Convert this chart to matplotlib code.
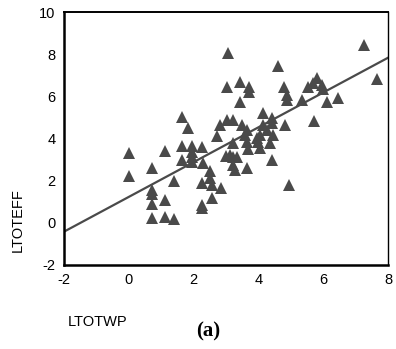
import matplotlib
matplotlib.use("Agg")
import matplotlib.pyplot as plt
import numpy as np

plt.rcParams["axes.unicode_minus"] = False

# LTOTWP vs LTOTEFF observations
ltotwp = [
    0.00, 0.00, 0.73, 0.73, 0.73, 0.73, 0.73, 1.12, 1.12, 1.12,
    1.38, 1.38, 1.64, 1.84, 1.65, 1.65, 1.96, 1.96, 1.96, 1.96,
    2.25, 2.30, 2.51, 2.51, 2.25, 2.56, 2.86, 2.58, 2.25, 2.25,
    2.71, 2.81, 3.02, 3.23, 3.48, 3.64, 3.07, 3.02, 3.43, 3.70,
    3.70, 3.43, 4.60, 4.15, 4.41, 4.41, 4.15, 4.82, 5.72, 3.59,
    4.05, 4.26, 4.46, 3.64, 4.00, 4.36, 3.69, 4.05, 3.23, 3.95,
    3.12, 3.23, 3.33, 3.23, 3.28, 3.64, 4.41, 4.95, 3.00, 4.79,
    4.87, 4.87, 5.34, 5.54, 5.70, 5.80, 5.95, 5.98, 6.13, 6.47,
    7.25, 7.65,
]
ltoteff = [
    3.30, 2.20, 2.58, 1.55, 1.35, 0.87, 0.24, 3.40, 1.08, 0.26,
    1.98, 0.17, 5.03, 4.50, 3.64, 2.99, 3.66, 3.37, 3.12, 2.88,
    3.61, 2.82, 2.48, 2.11, 1.88, 1.79, 1.66, 1.18, 0.86, 0.68,
    4.10, 4.64, 4.88, 4.88, 4.64, 4.40, 8.06, 6.45, 6.66, 6.46,
    6.22, 5.71, 7.44, 5.22, 4.96, 4.72, 4.64, 4.64, 4.82, 4.17,
    4.17, 4.40, 4.17, 3.85, 3.85, 3.77, 3.49, 3.53, 3.77, 4.01,
    3.22, 3.14, 3.14, 2.74, 2.50, 2.58, 2.98, 1.79, 3.15, 6.43,
    6.06, 5.83, 5.83, 6.43, 6.62, 6.85, 6.54, 6.33, 5.75, 5.92,
    8.45, 6.83,
]

# fitted regression line
fit_intercept = 1.23
fit_slope = 0.825
fit_range = [-2, 8]

x_ticks = [-2, 0, 2, 4, 6, 8]
y_ticks = [-2, 0, 2, 4, 6, 8, 10]

gray = "#4a4a4a"

fig = plt.figure(figsize=(3.96, 3.49), dpi=100)
ax = fig.add_axes([0.1616, 0.2407, 0.8182, 0.7249])

ax.plot(ltotwp, ltoteff, linestyle="none", marker="^", markersize=9,
        color=gray, markeredgewidth=0, zorder=3)

fx = np.array(fit_range, dtype=float)
ax.plot(fx, fit_intercept + fit_slope * fx, color=gray, linewidth=1.6, zorder=2)

ax.set_xlim(-2, 8)
ax.set_ylim(-2, 10)
ax.set_xticks(x_ticks)
ax.set_yticks(y_ticks)
ax.tick_params(length=0, labelsize=10.5, pad=6)
for lbl in ax.get_xticklabels() + ax.get_yticklabels():
    lbl.set_fontfamily("Liberation Sans")

ax.spines["left"].set_linewidth(1.8)
ax.spines["bottom"].set_linewidth(1.8)
ax.spines["top"].set_linewidth(1.4)
ax.spines["right"].set_linewidth(1.0)

fig.text(18 / 396, 1 - 220 / 349, "LTOTEFF", rotation=90, ha="center", va="center",
         fontsize=10.5, fontfamily="Liberation Sans")
fig.text(98 / 396, 1 - 322 / 349, "LTOTWP", ha="center", va="center",
         fontsize=10.5, fontfamily="Liberation Sans")
fig.text(208 / 396, 1 - 331 / 349, "(a)", ha="center", va="center",
         fontsize=15, fontweight="bold", fontfamily="Liberation Serif")

fig.savefig("out.png", dpi=100)
